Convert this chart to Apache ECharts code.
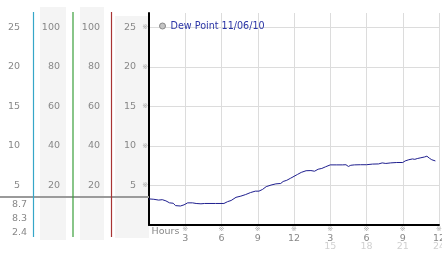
<!DOCTYPE html>
<html><head><meta charset="utf-8">
<script src="https://cdn.jsdelivr.net/npm/echarts@6/dist/echarts.min.js"></script>
<style>html,body{margin:0;padding:0;background:#fff}#c{width:442px;height:253px}</style>
</head><body><div id="c"></div>
<script>
// ---- data ----
const seriesName = 'Dew Point 11/06/10';
const hours = [0,0.4,0.8,1.1,1.4,1.7,2.0,2.2,2.6,2.9,3.2,3.6,3.9,4.3,4.6,5.5,6.2,6.5,6.8,7.2,7.6,8.0,8.4,8.8,9.1,9.4,9.7,10.1,10.5,10.9,11.1,11.4,11.7,12.0,12.3,12.6,13.0,13.4,13.7,14.0,14.3,14.6,15.0,15.5,16.0,16.3,16.5,16.7,17.0,17.5,18.0,18.5,19.0,19.3,19.6,20.0,20.5,21.0,21.2,21.5,21.8,22.0,22.2,22.5,22.8,23.0,23.2,23.4,23.5,23.7];
const dewPoint = [3.3,3.25,3.15,3.2,3.05,2.8,2.75,2.45,2.4,2.55,2.8,2.8,2.72,2.68,2.72,2.72,2.72,2.95,3.1,3.5,3.65,3.85,4.1,4.28,4.28,4.5,4.85,5.05,5.2,5.25,5.5,5.65,5.9,6.15,6.4,6.65,6.86,6.88,6.8,7.05,7.15,7.35,7.6,7.6,7.6,7.62,7.4,7.55,7.6,7.62,7.62,7.7,7.72,7.85,7.78,7.85,7.9,7.9,8.1,8.25,8.35,8.3,8.4,8.5,8.6,8.7,8.45,8.25,8.4,8.1];
const dewTicks = [5,10,15,20,25];
const humidityTicks = [20,40,60,80,100];
const hourLabels = ['Hours','3','6','9','12','3','6','9','12'];
const clockLabels = ['','','','','','15','18','21','24'];
const statLabels = ['8.7','8.3','2.4'];

const FONT = 'DejaVu Sans';
const LBL = '#888';
const yMax = 26.8;

function dewFmt(v){ return dewTicks.indexOf(v) >= 0 ? String(v) : ''; }
function humFmt(v){ return humidityTicks.indexOf(v) >= 0 ? String(v) : ''; }

const chart = echarts.init(document.getElementById('c'), null, {renderer:'canvas'});
const sideAxis = (offset, max, interval, fmt, margin) => ({
  type:'value', position:'left', offset:offset, min:0, max:max, interval:interval,
  axisLine:{show:false}, axisTick:{show:false}, splitLine:{show:false},
  axisLabel:{formatter:fmt, margin:margin, color:LBL, fontSize:9.5, fontFamily:FONT}
});
chart.setOption({
  animation:false,
  backgroundColor:'#fff',
  grid:{left:149, right:3, top:13, bottom:28, containLabel:false, outerBoundsMode:'none'},
  legend:{
    show:true, left:154, top:16, icon:'circle', itemWidth:6, itemHeight:6,
    itemStyle:{color:'#c4c4c4', borderColor:'#888', borderWidth:1},
    textStyle:{color:'#2b35a6', fontSize:9.6, fontFamily:FONT},
    data:[seriesName]
  },
  xAxis:{
    type:'value', min:0, max:24, interval:3,
    axisLine:{show:true, lineStyle:{color:'#000', width:2}},
    axisTick:{show:false},
    splitLine:{show:true, showMinLine:false, lineStyle:{color:'#dcdcdc', width:1}},
    axisLabel:{
      margin:1, showMinLabel:true, showMaxLabel:true,
      formatter:function(v){
        const i = Math.round(v/3);
        if (i === 0) return '{h|' + hourLabels[0] + '}';
        let s = '{s|※}\n{d|' + hourLabels[i] + '}';
        if (clockLabels[i]) s += '\n{e|' + clockLabels[i] + '}';
        return s;
      },
      rich:{
        h:{fontSize:9.5, fontFamily:FONT, color:LBL, lineHeight:12, padding:[0,0,0,33]},
        s:{fontSize:7, fontFamily:FONT, color:'#aaa', lineHeight:6},
        d:{fontSize:9.5, fontFamily:FONT, color:LBL, lineHeight:13},
        e:{fontSize:9.5, fontFamily:FONT, color:'#d0d0d0', lineHeight:4}
      }
    }
  },
  yAxis:[
    {
      type:'value', position:'left', min:0, max:yMax, interval:5,
      axisLine:{show:true, lineStyle:{color:'#000', width:2}},
      axisTick:{show:false},
      splitLine:{show:true, showMinLine:false, showMaxLine:false, lineStyle:{color:'#dcdcdc', width:1}},
      axisLabel:{
        margin:1,
        formatter:function(v){ const t = dewFmt(v); return t ? '{v|' + t + '}{s|※}' : ''; },
        rich:{
          v:{fontSize:9.5, fontFamily:FONT, color:LBL},
          s:{fontSize:7, fontFamily:FONT, color:'#aaa', padding:[0,0,0,6]}
        }
      }
    },
    sideAxis(38, yMax*4, 20, humFmt, 11),
    sideAxis(76, yMax*4, 20, humFmt, 13),
    sideAxis(116, yMax, 5, dewFmt, 13)
  ],
  series:[{
    name:seriesName, type:'line', xAxisIndex:0, yAxisIndex:0,
    data:hours.map((h,i)=>[h, dewPoint[i]]),
    showSymbol:false, symbol:'none',
    lineStyle:{color:'#1f1f8f', width:1},
    itemStyle:{color:'#c4c4c4'}
  }],
  graphic:[
    {type:'rect', z:-100, shape:{x:40,y:7,width:26,height:233}, style:{fill:'#f4f4f4'}},
    {type:'rect', z:-100, shape:{x:80,y:7,width:24,height:233}, style:{fill:'#f4f4f4'}},
    {type:'rect', z:-100, shape:{x:115,y:16,width:34,height:222}, style:{fill:'#f4f4f4'}},
    {type:'line', z:50, shape:{x1:0,y1:197,x2:149,y2:197}, style:{stroke:'#9a9a9a', lineWidth:2}},
    {type:'line', z:60, shape:{x1:33.5,y1:12,x2:33.5,y2:237}, style:{stroke:'#35a6c8', lineWidth:1.2}},
    {type:'line', z:60, shape:{x1:73,y1:12,x2:73,y2:237}, style:{stroke:'#3a9e3a', lineWidth:1.2}},
    {type:'line', z:60, shape:{x1:111.5,y1:12,x2:111.5,y2:237}, style:{stroke:'#a83434', lineWidth:1.2}},
    {type:'text', z:60, style:{text:statLabels[0], x:27, y:205, align:'right', verticalAlign:'middle', textAlign:'right', textVerticalAlign:'middle', fontSize:9.5, fontFamily:FONT, fill:LBL}},
    {type:'text', z:60, style:{text:statLabels[1], x:27, y:219, align:'right', verticalAlign:'middle', textAlign:'right', textVerticalAlign:'middle', fontSize:9.5, fontFamily:FONT, fill:LBL}},
    {type:'text', z:60, style:{text:statLabels[2], x:27, y:233, align:'right', verticalAlign:'middle', textAlign:'right', textVerticalAlign:'middle', fontSize:9.5, fontFamily:FONT, fill:LBL}}
  ]
});
</script></body></html>
